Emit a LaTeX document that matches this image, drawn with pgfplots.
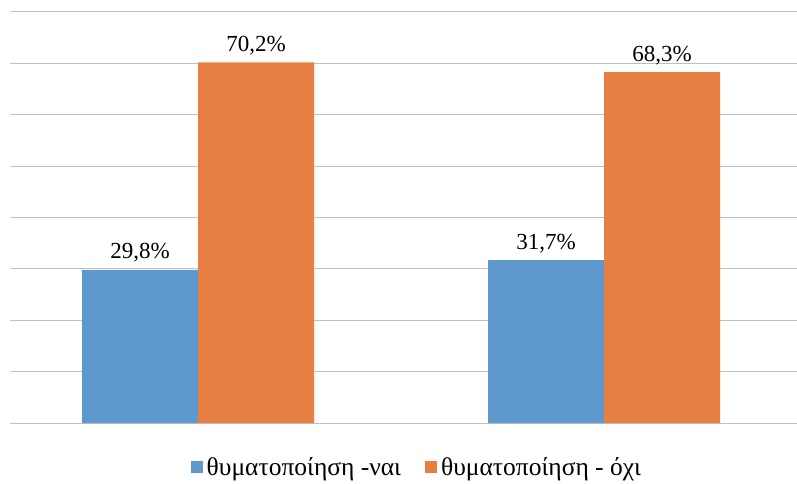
\documentclass[border=0pt]{standalone}
\usepackage{fontspec}
\setmainfont{Liberation Serif}
\usepackage{pgfplots}
\pgfplotsset{compat=1.18}
\definecolor{barblue}{HTML}{5F98CD}
\definecolor{barorange}{HTML}{E67F41}
\definecolor{gridgray}{HTML}{BFBFBF}
\begin{document}
\begin{tikzpicture}[x=1pt,y=1pt]
\path[use as bounding box] (0,0) rectangle (797,483);
\begin{axis}[
  at={(10pt,60pt)}, anchor=south west,
  scale only axis, width=787pt, height=411pt,
  ybar=0pt, bar width=116pt,
  xmin=-0.463, xmax=1.475,
  ymin=0, ymax=80,
  ytick={0,10,...,80}, yticklabels={},
  xtick=\empty,
  ymajorgrids, grid style={gridgray, line width=1pt},
  major tick length=0pt,
  axis line style={draw=none},
  /pgf/number format/assume math mode=true,
  point meta=explicit symbolic,
  nodes near coords,
  every node near coord/.append style={font=\fontsize{23}{25}\selectfont, text=black, yshift=4pt},
  legend style={at={(0.517,-0.107)}, anchor=center, draw=none, fill=none, legend columns=2,
    font=\fontsize{25.5}{27}\selectfont,
    inner sep=0pt,
    /tikz/every odd column/.append style={column sep=2pt},
    /tikz/every even column/.append style={column sep=22pt}},
  legend image code/.code={\fill[#1] (0pt,-6pt) rectangle (12pt,6pt);},
]
\addplot[fill=barblue, draw=none] coordinates {(0,29.8) [29,8\%] (1,31.7) [31,7\%]};
\addplot[fill=barorange, draw=none] coordinates {(0,70.2) [70,2\%] (1,68.3) [68,3\%]};
\legend{θυματοποίηση -ναι, θυματοποίηση - όχι}
\end{axis}
\end{tikzpicture}
\end{document}
